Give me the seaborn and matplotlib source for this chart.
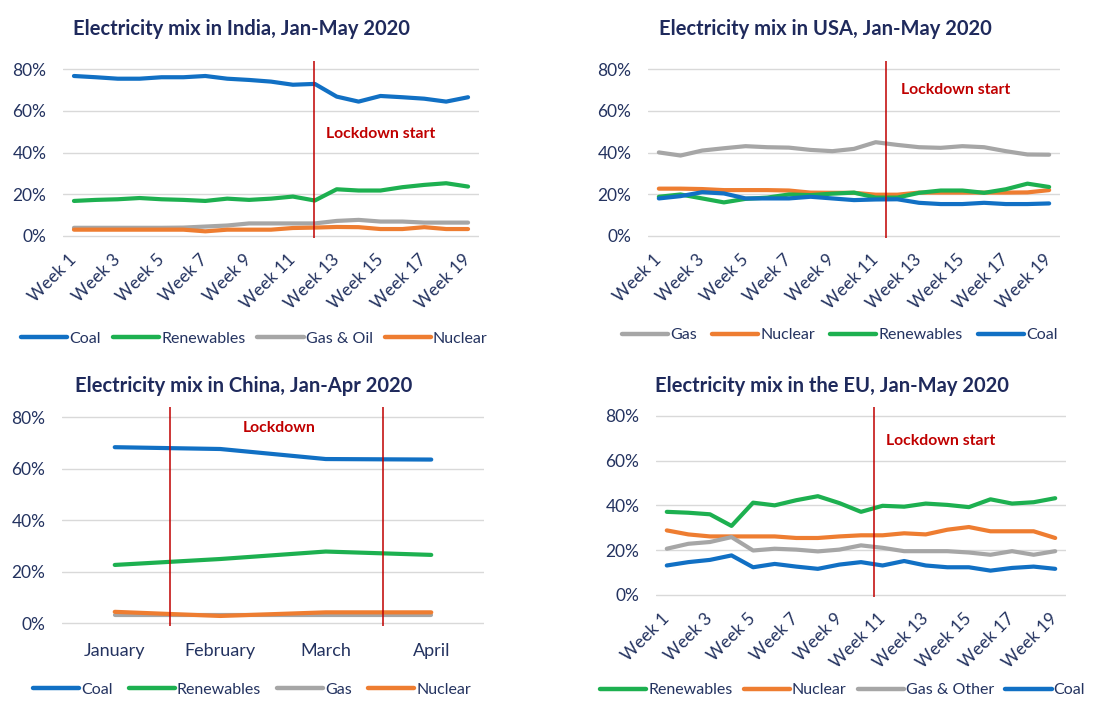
import matplotlib
matplotlib.use("Agg")
import matplotlib.pyplot as plt
import seaborn as sns
import pandas as pd
import numpy as np

# ---------------- data ----------------
weeks = list(range(1, 20))
week_tick_labels = [f"Week {w}" for w in range(1, 20, 2)]

india_coal = [76.8, 76.2, 75.5, 75.5, 76.2, 76.2, 76.8, 75.5, 74.9, 74.1, 72.6, 73.0,
              66.9, 64.5, 67.2, 66.6, 65.9, 64.5, 66.6]
india_renew = [16.8, 17.3, 17.6, 18.2, 17.6, 17.3, 16.8, 17.9, 17.3, 17.9, 18.9, 17.0,
               22.4, 21.8, 21.8, 23.4, 24.5, 25.3, 23.7]
india_gas = [3.9, 3.9, 3.9, 3.9, 3.9, 4.0, 4.5, 5.0, 6.0, 6.0, 6.0, 6.0,
             7.2, 7.7, 6.9, 6.9, 6.4, 6.4, 6.4]
india_nuclear = [3.0, 3.0, 3.0, 3.0, 3.0, 3.0, 2.2, 3.0, 3.0, 3.0, 3.8, 4.0,
                 4.3, 4.2, 3.3, 3.3, 4.2, 3.3, 3.3]

usa_gas = [40.1, 38.6, 41.0, 42.1, 43.1, 42.6, 42.4, 41.3, 40.7, 41.8, 45.0, 43.7,
           42.6, 42.3, 43.1, 42.6, 40.7, 39.1, 39.0]
usa_nuclear = [22.7, 22.7, 22.5, 22.0, 22.0, 22.0, 21.8, 20.8, 20.7, 20.7, 19.8, 19.8,
               20.8, 20.8, 20.8, 20.8, 20.8, 20.9, 22.0]
usa_renew = [18.8, 19.9, 18.0, 16.1, 17.8, 18.4, 19.9, 19.6, 20.3, 20.8, 18.4, 18.4,
             20.7, 21.8, 21.8, 20.7, 22.4, 25.1, 23.5]
usa_coal = [18.0, 19.1, 21.0, 20.4, 18.0, 18.0, 18.0, 18.8, 18.0, 17.2, 17.5, 17.6,
            15.9, 15.3, 15.3, 15.9, 15.3, 15.3, 15.6]

months = ["January", "February", "March", "April"]
china_coal = [68.4, 67.7, 63.8, 63.6]
china_renew = [22.7, 25.0, 27.9, 26.6]
china_gas = [3.2, 3.2, 3.2, 3.2]
china_nuclear = [4.5, 2.9, 4.3, 4.3]

eu_renew = [37.1, 36.7, 36.0, 30.8, 41.2, 40.0, 42.3, 44.1, 41.0, 37.1, 39.8, 39.4,
            40.8, 40.2, 39.2, 42.7, 40.8, 41.4, 43.2]
eu_nuclear = [28.8, 27.0, 26.1, 26.1, 26.1, 26.1, 25.4, 25.4, 26.1, 26.6, 26.6, 27.5,
              27.0, 29.1, 30.3, 28.4, 28.4, 28.4, 25.4]
eu_gas = [20.6, 22.8, 23.6, 25.8, 19.8, 20.6, 20.2, 19.4, 20.2, 22.1, 21.0, 19.5,
          19.5, 19.5, 18.9, 17.9, 19.5, 17.9, 19.5]
eu_coal = [13.1, 14.6, 15.6, 17.6, 12.3, 13.8, 12.6, 11.6, 13.5, 14.6, 13.1, 15.1,
           13.1, 12.3, 12.3, 10.8, 12.0, 12.6, 11.6]

titles = ["Electricity mix in India, Jan-May 2020",
          "Electricity mix in USA, Jan-May 2020",
          "Electricity mix in China, Jan-Apr 2020",
          "Electricity mix in the EU, Jan-May 2020"]

# ---------------- style ----------------
BLUE = "#1170C4"
GREEN = "#1DB050"
GRAY = "#A6A6A6"
ORANGE = "#EE7D31"
RED = "#C00000"
NAVY = "#1F2A5C"
TICK = "#243360"

sns.set_theme(style="white")
plt.rcParams["font.family"] = ["Lato", "DejaVu Sans"]

fig = plt.figure(figsize=(11.09, 7.01), dpi=100)

W, H = 1109, 701


def axes_px(left, right, bottom, top):
    return fig.add_axes([left / W, 1 - bottom / H, (right - left) / W, (bottom - top) / H])


def make_df(x, series):
    rows = []
    for name, vals in series.items():
        for xi, v in zip(x, vals):
            rows.append({"x": xi, "share": v, "source": name})
    return pd.DataFrame(rows)


def style_axes(ax, title, title_x, pad):
    ax.set_ylim(-1, 84)
    ax.set_yticks([0, 20, 40, 60, 80])
    ax.set_yticklabels([f"{v}%" for v in [0, 20, 40, 60, 80]], fontsize=12.5, color=TICK)
    ax.grid(axis="y", color="#D9D9D9", lw=1)
    ax.grid(axis="x", visible=False)
    for s in ax.spines.values():
        s.set_visible(False)
    ax.tick_params(axis="both", length=0)
    ax.tick_params(axis="y", pad=12)
    ax.set_xlabel("")
    ax.set_ylabel("")
    ax.set_title(title, fontsize=14.5, fontweight="bold", color=NAVY, x=title_x, pad=pad)


def add_legend(ax, order, y, x=0.5, colspace=0.7):
    handles, labels = ax.get_legend_handles_labels()
    hmap = dict(zip(labels, handles))
    leg = ax.legend([hmap[o] for o in order], order, loc="center", bbox_to_anchor=(x, y),
                    ncol=4, frameon=False, fontsize=11.5, handlelength=2.9,
                    handletextpad=0.12, columnspacing=colspace, borderaxespad=0)
    for t in leg.get_texts():
        t.set_color(TICK)
    for l in leg.get_lines():
        l.set_linewidth(3.2)


def lockdown(ax, xpos):
    ax.axvline(xpos, ymin=0, ymax=1, color=RED, lw=1.1, zorder=5)


def week_ticks(ax):
    ax.set_xlim(0.5, 19.5)
    ax.set_xticks(range(1, 20, 2))
    ax.set_xticklabels(week_tick_labels, rotation=45, ha="right", va="center",
                       rotation_mode="anchor", fontsize=12.5, color=TICK)
    ax.tick_params(axis="x", pad=14)


# ---------- India ----------
ax = axes_px(63, 479, 238, 61)
order = ["Coal", "Renewables", "Gas & Oil", "Nuclear"]
df = make_df(weeks, dict(zip(order, [india_coal, india_renew, india_gas, india_nuclear])))
sns.lineplot(data=df, x="x", y="share", hue="source", hue_order=order,
             palette=[BLUE, GREEN, GRAY, ORANGE], lw=3, ax=ax)
style_axes(ax, titles[0], 0.43, 19)
week_ticks(ax)
lockdown(ax, 11.95)
ax.text(12.5, 49, "Lockdown start", color=RED, fontsize=11.3, fontweight="bold", va="center")
add_legend(ax, order, -0.57, 0.46, 0.75)

# ---------- USA ----------
ax = axes_px(648, 1060, 238, 61)
order = ["Gas", "Nuclear", "Renewables", "Coal"]
df = make_df(weeks, dict(zip(order, [usa_gas, usa_nuclear, usa_renew, usa_coal])))
sns.lineplot(data=df, x="x", y="share", hue="source", hue_order=order,
             palette=[GRAY, ORANGE, GREEN, BLUE], lw=3, ax=ax)
style_axes(ax, titles[1], 0.43, 19)
week_ticks(ax)
lockdown(ax, 11.47)
ax.text(12.15, 70, "Lockdown start", color=RED, fontsize=11.3, fontweight="bold", va="center")
add_legend(ax, order, -0.55, 0.465, 0.95)

# ---------- China ----------
ax = axes_px(62, 484, 626, 407)
order = ["Coal", "Renewables", "Gas", "Nuclear"]
df = make_df(list(range(len(months))), dict(zip(order, [china_coal, china_renew, china_gas, china_nuclear])))
sns.lineplot(data=df, x="x", y="share", hue="source", hue_order=order,
             palette=[BLUE, GREEN, GRAY, ORANGE], lw=3, ax=ax)
ax.set_xlim(-0.5, 3.5)
style_axes(ax, titles[2], 0.43, 11)
ax.set_xticks(range(len(months)))
ax.set_xticklabels(months, fontsize=13, color=TICK)
ax.tick_params(axis="x", pad=12)
lockdown(ax, 0.52)
lockdown(ax, 2.54)
ax.text(1.56, 76, "Lockdown", color=RED, fontsize=11.3, fontweight="bold", va="center", ha="center")
add_legend(ax, order, -0.29, 0.45, 1.0)

# ---------- EU ----------
ax = axes_px(656, 1066, 597, 407)
order = ["Renewables", "Nuclear", "Gas & Other", "Coal"]
df = make_df(weeks, dict(zip(order, [eu_renew, eu_nuclear, eu_gas, eu_coal])))
sns.lineplot(data=df, x="x", y="share", hue="source", hue_order=order,
             palette=[GREEN, ORANGE, GRAY, BLUE], lw=3, ax=ax)
style_axes(ax, titles[3], 0.43, 11)
week_ticks(ax)
lockdown(ax, 10.58)
ax.text(11.15, 69, "Lockdown start", color=RED, fontsize=11.3, fontweight="bold", va="center")
add_legend(ax, order, -0.49, 0.455, 0.7)

fig.savefig("out.png", dpi=100)
